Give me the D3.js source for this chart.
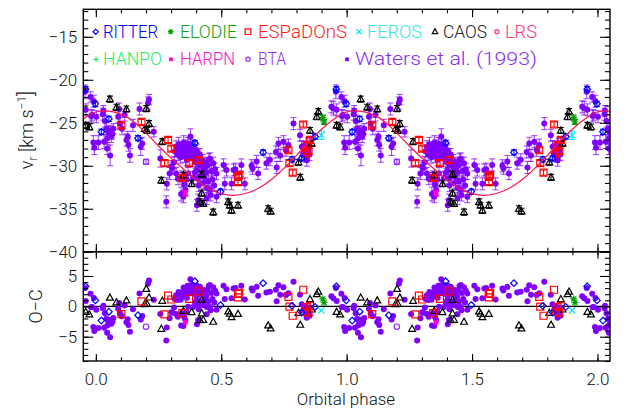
<!DOCTYPE html>
<html><head><meta charset="utf-8">
<script src="https://cdn.jsdelivr.net/npm/d3@7"></script>
<style>
body{margin:0;background:#fff}
svg{display:block}
text{font-family:Roboto,"Liberation Sans",sans-serif;font-weight:300}
</style>
</head><body>
<svg id="chart" width="628" height="409"></svg>
<script>
// ---------------- data (phase, v_r [km/s], error) ----------------
const modelPhase = [0,0.05,0.1,0.15,0.2,0.25,0.3,0.35,0.4,0.45,0.5,0.55,0.6,0.65,0.7,0.75,0.8,0.85,0.9,0.95,1.0];
const modelVr    = [-23.75,-23.65,-24.0,-24.85,-26.2,-27.7,-29.1,-30.4,-31.6,-32.65,-33.25,-33.45,-33.2,-32.6,-31.6,-30.3,-28.8,-27.2,-25.75,-24.55,-23.75];

const waters = [
 [0.939,-23.15,0.7],[0.947,-23.3,0.8],[0.957,-21.4,0.8],[0.960,-23.5,0.7],[0.979,-22.0,0.6],[0.981,-24.2,0.7],[0.985,-24.1,0.6],[0.992,-22.5,0.7],[0.990,-27.3,0.8],[0.994,-27.9,0.8],
 [0.002,-24.3,0.7],[0.010,-27.3,0.8],[0.028,-24.0,0.7],[0.030,-23.6,0.6],[0.033,-27.2,0.8],[0.036,-24.8,0.7],[0.042,-25.7,0.7],[0.045,-28.0,0.7],[0.046,-26.8,0.7],[0.050,-26.1,0.7],[0.056,-25.9,0.6],[0.057,-28.8,1.2],[0.062,-26.6,0.7],[0.066,-26.3,0.6],[0.070,-25.7,0.6],[0.089,-24.3,0.7],[0.093,-23.4,0.7],[0.096,-25.1,0.7],
 [0.104,-25.7,0.7],[0.115,-24.1,0.7],[0.122,-27.0,0.7],[0.127,-26.6,0.6],[0.130,-27.6,0.7],[0.136,-28.8,0.8],[0.148,-25.3,0.7],[0.174,-23.4,0.7],[0.179,-27.8,1.0],[0.185,-27.4,0.7],[0.208,-22.7,0.7],[0.212,-22.3,0.6],[0.231,-26.05,0.6],[0.257,-29.15,1.0],
 [0.281,-34.2,0.7],[0.283,-32.1,0.7],[0.294,-30.9,0.7],[0.301,-30.1,0.7],
 [0.315,-28.3,0.7],[0.320,-27.8,0.7],[0.325,-28.7,0.7],[0.330,-27.5,0.8],[0.334,-28.1,0.7],[0.338,-29.0,0.7],[0.342,-27.9,0.7],[0.346,-28.5,0.7],[0.350,-27.3,0.8],[0.353,-28.9,0.7],[0.356,-27.7,0.7],[0.360,-28.3,0.7],[0.363,-29.3,0.7],[0.366,-27.4,0.7],[0.370,-28.0,0.7],[0.373,-28.7,0.7],[0.377,-26.6,0.9],[0.380,-27.6,0.7],[0.383,-28.4,0.7],[0.386,-29.1,0.7],[0.390,-27.9,0.7],[0.394,-28.6,0.7],[0.398,-29.6,0.7],[0.402,-28.2,0.7],[0.406,-29.0,0.7],[0.410,-29.8,0.7],[0.415,-28.7,0.7],[0.420,-30.0,0.7],[0.425,-29.4,0.7],[0.430,-30.3,0.7],[0.436,-29.7,0.7],[0.441,-30.8,0.7],[0.446,-30.0,0.7],[0.450,-29.3,0.7],[0.455,-29.2,0.7],[0.461,-30.6,0.7],[0.468,-29.7,0.7],[0.475,-30.4,0.7],[0.481,-30.9,0.7],
 [0.305,-30.3,0.7],[0.312,-29.6,0.7],[0.320,-30.9,0.7],[0.327,-31.5,0.7],[0.340,-33.3,0.8],[0.343,-31.3,0.7],[0.349,-33.6,0.7],[0.352,-32.2,0.7],[0.357,-32.8,0.7],[0.362,-31.6,0.7],[0.368,-30.9,0.7],
 [0.403,-30.5,0.7],[0.406,-31.5,0.7],[0.410,-32.3,0.7],[0.418,-31.2,0.7],[0.428,-32.0,0.7],[0.433,-31.3,0.7],[0.443,-32.6,0.7],[0.448,-31.8,0.7],[0.455,-32.8,0.7],[0.458,-33.4,0.7],[0.465,-31.6,0.7],[0.472,-32.3,0.7],[0.403,-34.6,0.7],[0.408,-34.0,0.7],[0.442,-33.8,0.7],[0.481,-33.6,0.7],[0.395,-30.8,0.7],[0.388,-31.4,0.7],
 [0.509,-29.9,0.7],[0.514,-32.1,0.7],[0.521,-30.5,0.7],[0.541,-32.1,0.7],[0.549,-30.5,0.7],[0.556,-30.4,0.7],[0.580,-29.9,0.7],[0.594,-32.1,0.7],[0.621,-30.0,0.7],[0.625,-30.3,0.7],[0.641,-29.5,0.7],[0.647,-30.9,0.7],
 [0.680,-29.7,0.7],[0.694,-29.3,0.7],[0.718,-28.4,0.7],[0.721,-30.2,0.7],[0.728,-27.4,0.7],[0.735,-28.8,0.7],[0.748,-27.2,0.7],[0.758,-28.2,0.7],[0.768,-27.6,0.7],[0.788,-25.1,0.7],
 [0.814,-26.45,0.7],[0.821,-27.8,0.7],[0.827,-28.6,0.7],[0.830,-28.1,0.7],[0.834,-27.8,0.7],[0.838,-28.9,0.7],[0.841,-29.35,0.7],[0.845,-27.5,0.7],[0.848,-28.2,0.7],[0.852,-28.7,0.7]
];
const caos = [
 [0.056,-22.25,0.35],[0.082,-23.2,0.35],[0.122,-23.4,0.35],[0.195,-25.7,0.35],[0.201,-23.35,0.35],[0.204,-25.9,0.35],[0.212,-25.1,0.35],[0.261,-31.7,0.35],[0.265,-27.2,0.35],
 [0.349,-31.1,0.35],[0.382,-32.1,0.35],[0.415,-34.2,0.35],[0.422,-31.0,0.35],[0.422,-33.2,0.35],[0.428,-34.4,0.35],[0.468,-35.4,0.35],[0.528,-34.2,0.35],[0.534,-34.6,0.35],[0.541,-35.2,0.35],[0.567,-34.6,0.35],
 [0.687,-35.0,0.35],[0.697,-35.3,0.35],[0.808,-29.6,0.35],[0.815,-31.35,0.35],[0.854,-25.9,0.35],[0.861,-27.4,0.35],[0.881,-24.3,0.35],[0.887,-23.7,0.35],[0.960,-25.3,0.35],[0.974,-25.5,0.35]
];
const espadons = [
 [0.102,-25.3,0.3],[0.182,-24.9,0.3],[0.274,-29.7,0.3],[0.288,-27.0,0.3],[0.301,-28.0,0.3],[0.345,-31.4,0.3],[0.372,-29.7,0.3],[0.410,-29.35,0.3],
 [0.567,-31.3,0.3],[0.572,-31.1,0.3],[0.567,-31.9,0.3],[0.768,-28.2,0.3],[0.772,-29.7,0.3],[0.785,-30.8,0.3],[0.827,-25.2,0.3],[0.841,-27.6,0.3],[0.848,-28.3,0.3],[0.854,-27.0,0.3],[0.834,-28.6,0.3]
];
const ritter = [
 [0.022,-26.05,0.3],[0.052,-24.55,0.3],[0.168,-26.8,0.3],[0.395,-27.35,0.3],[0.497,-33.0,0.3],[0.667,-28.45,0.3],[0.782,-29.25,0.3],[0.821,-29.15,0.3],[0.874,-26.6,0.3],[0.959,-21.1,0.3],[0.998,-22.8,0.3]
];
const elodie = [[0.905,-24.4,0.3],[0.910,-24.9,0.3]];
const feros  = [[0.899,-26.45,0.5]];
const harpn  = [[0.357,-33.2,0.3]];
const bta    = [[0.200,-29.55,0.3]];
const lrs    = [];
const hanpo  = [];

const xTickValues = [0.0,0.5,1.0,1.5,2.0];
const yTopTicks = [-40,-35,-30,-25,-20,-15];
const yResTicks = [-5,0,5];
const legendRow1 = ["RITTER","ELODIE","ESPaDOnS","FEROS","CAOS","LRS"];
const legendRow2 = ["HANPO","HARPN","BTA","Waters et al. (1993)"];

// ---------------- styles ----------------
const styles = {
 "RITTER":{color:"#0000ff",text:"#0000ff",sym:"diamond",data:ritter},
 "ELODIE":{color:"#00a000",text:"#11a011",sym:"asterisk",data:elodie},
 "ESPaDOnS":{color:"#ff0000",text:"#ff1a1a",sym:"square",data:espadons},
 "FEROS":{color:"#00e8f0",text:"#2eeaea",sym:"x",data:feros},
 "CAOS":{color:"#000000",text:"#222222",sym:"triangle",data:caos},
 "LRS":{color:"#ff3380",text:"#ff3380",sym:"circle",data:lrs},
 "HANPO":{color:"#1eee60",text:"#1eee60",sym:"plus",data:hanpo},
 "HARPN":{color:"#ff00cc",text:"#ff10cc",sym:"fsquare",data:harpn},
 "BTA":{color:"#9326ff",text:"#9326ff",sym:"circle",data:bta},
 "Waters et al. (1993)":{color:"#7f00ff",text:"#8a2cf0",sym:"dot",legendSym:"fsquare",data:waters}
};
const drawOrder = ["Waters et al. (1993)","BTA","HARPN","LRS","HANPO","CAOS","ESPaDOnS","RITTER","FEROS","ELODIE"];

// ---------------- layout ----------------
const L=83.3, R=610, T=9.3, M=251.7, B=361;
const svg = d3.select("#chart");
const x = d3.scaleLinear().domain([-0.05,2.05]).range([L,R]);
const yTop = d3.scaleLinear().domain([-40,-11.8]).range([M,T]);
const yRes = d3.scaleLinear().domain([-9,9]).range([B,M]);
const model = d3.scaleLinear().domain(modelPhase).range(modelVr);

function unfold(data){
  const out=[];
  data.forEach(d=>{[-1,0,1,2].forEach(k=>{const p=d[0]+k; if(p>=-0.05&&p<=2.05) out.push({p:p,ph:d[0],v:d[1],e:d[2]});});});
  return out;
}
function symPath(t,s){
  switch(t){
    case "diamond": return `M0,${-s}L${s},0L0,${s}L${-s},0Z`;
    case "square": return `M${-s},${-s}H${s}V${s}H${-s}Z`;
    case "triangle": return `M0,${-s}L${s*0.95},${s*0.7}L${-s*0.95},${s*0.7}Z`;
    case "x": return `M${-s},${-s}L${s},${s}M${-s},${s}L${s},${-s}`;
    case "plus": return `M${-s},0H${s}M0,${-s}V${s}`;
    case "asterisk": {const a=s*0.75; return `M${-s},0H${s}M0,${-s}V${s}M${-a},${-a}L${a},${a}M${-a},${a}L${a},${-a}`;}
  }
  return "";
}
const symSize = {diamond:3.3,square:3.5,triangle:3.6,x:3.2,plus:3.4,asterisk:3.4};
function drawMarker(g,t,cx,cy,color,scale){
  scale = scale||1;
  if(t==="dot"){ g.append("circle").attr("cx",cx).attr("cy",cy).attr("r",3.0*scale).attr("fill",color); }
  else if(t==="circle"){ g.append("circle").attr("cx",cx).attr("cy",cy).attr("r",2.7*scale).attr("fill","none").attr("stroke",color).attr("stroke-width",1.2); }
  else if(t==="fsquare"){ const s=2.3*scale; g.append("rect").attr("x",cx-s).attr("y",cy-s).attr("width",2*s).attr("height",2*s).attr("fill",color); }
  else { g.append("path").attr("transform",`translate(${cx},${cy})`).attr("d",symPath(t,symSize[t]*scale)).attr("fill","none").attr("stroke",color).attr("stroke-width",1.2); }
}

// clip paths
const defs = svg.append("defs");
defs.append("clipPath").attr("id","clipTop").append("rect").attr("x",L).attr("y",T).attr("width",R-L).attr("height",M-T);
defs.append("clipPath").attr("id","clipRes").append("rect").attr("x",L).attr("y",M).attr("width",R-L).attr("height",B-M);

// ---------------- top panel data ----------------
const gTop = svg.append("g").attr("clip-path","url(#clipTop)");
drawOrder.forEach(name=>{
  const st = styles[name];
  const pts = unfold(st.data);
  const g = gTop.append("g");
  pts.forEach(d=>{
    const cx=x(d.p), y1=yTop(d.v+d.e), y2=yTop(d.v-d.e);
    const op = name.startsWith("Waters")?0.7:1;
    g.append("line").attr("x1",cx).attr("x2",cx).attr("y1",y1).attr("y2",y2).attr("stroke",st.color).attr("stroke-width",1.1).attr("opacity",op);
    g.append("line").attr("x1",cx-3).attr("x2",cx+3).attr("y1",y1).attr("y2",y1).attr("stroke",st.color).attr("stroke-width",1.1).attr("opacity",op);
    g.append("line").attr("x1",cx-3).attr("x2",cx+3).attr("y1",y2).attr("y2",y2).attr("stroke",st.color).attr("stroke-width",1.1).attr("opacity",op);
    drawMarker(g,st.sym,cx,yTop(d.v),st.color);
  });
});
// model curve
const curvePts=[];
[-1,0,1,2].forEach(k=>modelPhase.forEach((p,i)=>{ if(!(k>-1&&i===0)) curvePts.push([p+k,modelVr[i]]); }));
gTop.append("path").datum(curvePts)
  .attr("d",d3.line().x(d=>x(d[0])).y(d=>yTop(d[1])).curve(d3.curveCatmullRom))
  .attr("fill","none").attr("stroke","#ff1450").attr("stroke-width",1.2);

// ---------------- residual panel ----------------
const gRes = svg.append("g").attr("clip-path","url(#clipRes)");
gRes.append("line").attr("x1",L).attr("x2",R).attr("y1",yRes(0)).attr("y2",yRes(0)).attr("stroke","#000").attr("stroke-width",1.4);
drawOrder.forEach(name=>{
  const st = styles[name];
  const g = gRes.append("g");
  unfold(st.data).forEach(d=>{ drawMarker(g,st.sym,x(d.p),yRes(d.v-model(d.ph)),st.color,1); });
});

// ---------------- axes ----------------
function styleAxis(g){ g.select(".domain").remove(); g.selectAll("line").attr("stroke","#000").attr("stroke-width",1.1);
  g.selectAll("text").attr("font-size",17).attr("fill","#111").style("font-family","Roboto, 'Liberation Sans', sans-serif").style("font-weight",300); }
const fmtY = d3.format("d"), fmtX = d3.format(".1f");
svg.append("g").attr("transform",`translate(${L},0)`).call(d3.axisLeft(yTop).tickValues(yTopTicks).tickSize(-10).tickPadding(6).tickFormat(fmtY)).call(styleAxis);
svg.append("g").attr("transform",`translate(${L},0)`).call(d3.axisLeft(yTop).tickValues(d3.range(-40,-11,1)).tickSize(-5).tickFormat("")).call(styleAxis);
svg.append("g").attr("transform",`translate(${R},0)`).call(d3.axisRight(yTop).tickValues(yTopTicks).tickSize(-10).tickFormat("")).call(styleAxis);
svg.append("g").attr("transform",`translate(${R},0)`).call(d3.axisRight(yTop).tickValues(d3.range(-40,-11,1)).tickSize(-5).tickFormat("")).call(styleAxis);
svg.append("g").attr("transform",`translate(${L},0)`).call(d3.axisLeft(yRes).tickValues(yResTicks).tickSize(-10).tickPadding(6).tickFormat(fmtY)).call(styleAxis);
svg.append("g").attr("transform",`translate(${L},0)`).call(d3.axisLeft(yRes).tickValues(d3.range(-9,10,1)).tickSize(-5).tickFormat("")).call(styleAxis);
svg.append("g").attr("transform",`translate(${R},0)`).call(d3.axisRight(yRes).tickValues(yResTicks).tickSize(-10).tickFormat("")).call(styleAxis);
svg.append("g").attr("transform",`translate(${R},0)`).call(d3.axisRight(yRes).tickValues(d3.range(-9,10,1)).tickSize(-5).tickFormat("")).call(styleAxis);
const xMinor = d3.range(0,21).map(i=>i/10);
[[T,"top",8],[M,"bottom",8],[M,"top",7],[B,"bottom",7]].forEach(([yy,side,len])=>{
  const ax = side==="top"?d3.axisTop:d3.axisBottom;
  svg.append("g").attr("transform",`translate(0,${yy})`).call(ax(x).tickValues(xTickValues).tickSize(-len).tickFormat("")).call(styleAxis);
  svg.append("g").attr("transform",`translate(0,${yy})`).call(ax(x).tickValues(xMinor).tickSize(-len/2).tickFormat("")).call(styleAxis);
});
svg.append("g").attr("transform",`translate(0,${B})`).call(d3.axisBottom(x).tickValues(xTickValues).tickSize(0).tickPadding(12).tickFormat(fmtX)).call(styleAxis);

// frames
[[T,M],[M,B]].forEach(([a,b])=>svg.append("rect").attr("x",L).attr("y",a).attr("width",R-L).attr("height",b-a).attr("fill","none").attr("stroke","#000").attr("stroke-width",1.4));

// axis titles
svg.append("text").attr("x",346).attr("y",405).attr("text-anchor","middle").attr("font-size",17).attr("fill","#111").text("Orbital phase");
const yl = svg.append("text").attr("transform","translate(33,130) rotate(-90)").attr("text-anchor","middle").attr("font-size",18).attr("fill","#111");
yl.append("tspan").text("v");
yl.append("tspan").attr("font-size",12).attr("dy",4).text("r");
yl.append("tspan").attr("dy",-4).text(" [km s");
yl.append("tspan").attr("font-size",12).attr("dy",-7).text("−1");
yl.append("tspan").attr("dy",7).attr("font-size",21).text("]");
svg.append("text").attr("transform","translate(42,306.5) rotate(-90)").attr("text-anchor","middle").attr("font-size",18).attr("fill","#111").text("O−C");

// ---------------- legend ----------------
const legendLayout1 = [[95.7,103,55],[170.7,180,57],[248,258,89],[359,367,55],[435,443,44],[497,505,32]];
const legendLayout2 = [[96,103,59],[171,180,55],[248,258,28],[347,355,182]];
[[legendRow1,legendLayout1,38.3,31.7],[legendRow2,legendLayout2,65,59.3]].forEach(([names,lay,base,my])=>{
  names.forEach((n,i)=>{
    const st=styles[n], [mx,tx,tw]=lay[i];
    drawMarker(svg,st.legendSym||st.sym,mx,my,st.color,0.8);
    svg.append("text").attr("x",tx).attr("y",base).attr("font-size",18).attr("fill",st.text)
      .attr("textLength",tw).attr("lengthAdjust","spacingAndGlyphs").text(n);
  });
});
</script>
</body></html>
